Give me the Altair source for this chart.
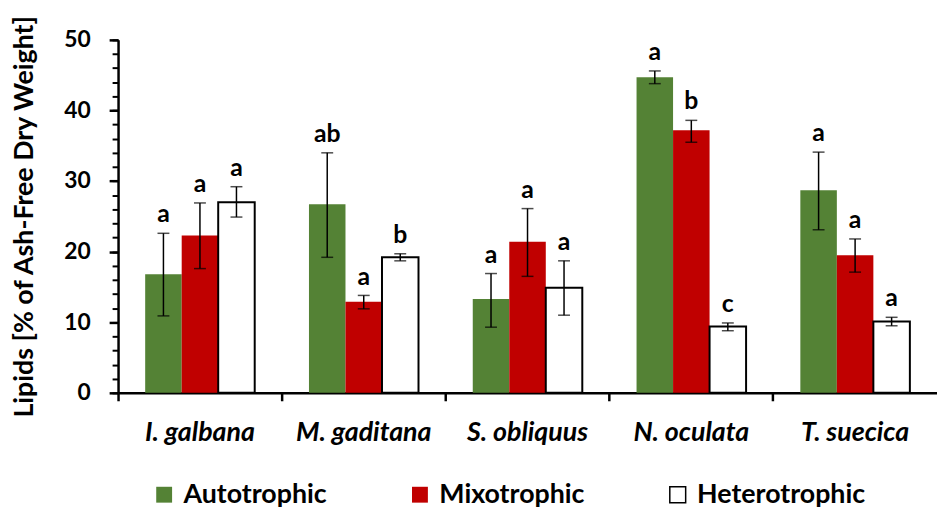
import altair as alt
import pandas as pd

species = ["I. galbana", "M. gaditana", "S. obliquus", "N. oculata", "T. suecica"]
types = ["Autotrophic", "Mixotrophic", "Heterotrophic"]

auto = [16.8, 26.7, 13.3, 44.7, 28.7]
auto_lo = [10.9, 19.2, 9.3, 43.8, 23.1]
auto_hi = [22.6, 34.0, 16.9, 45.6, 34.1]
auto_let = ["a", "ab", "a", "a", "a"]

mixo = [22.3, 12.9, 21.4, 37.2, 19.5]
mixo_lo = [17.6, 11.9, 16.5, 35.5, 17.1]
mixo_hi = [26.9, 13.8, 26.1, 38.6, 21.8]
mixo_let = ["a", "a", "a", "b", "a"]

hetero = [27.0, 19.2, 14.9, 9.4, 10.1]
hetero_lo = [24.9, 18.7, 11.0, 8.8, 9.5]
hetero_hi = [29.2, 19.7, 18.7, 9.9, 10.7]
hetero_let = ["a", "b", "a", "c", "a"]

fills = ["#548235", "#C00000", "#FFFFFF"]
strokes = ["transparent", "transparent", "#000000"]

rows = []
series = [
    ("Autotrophic", auto, auto_lo, auto_hi, auto_let),
    ("Mixotrophic", mixo, mixo_lo, mixo_hi, mixo_let),
    ("Heterotrophic", hetero, hetero_lo, hetero_hi, hetero_let),
]
for i, s in enumerate(species):
    for t, v, lo, hi, let in series:
        rows.append(dict(Species=s, Type=t, Value=v[i], Lo=lo[i], Hi=hi[i], Letter=let[i]))
df = pd.DataFrame(rows)

FONT = "Lato"
xscale = alt.Scale(domain=species, paddingInner=0, paddingOuter=0)
xoscale = alt.Scale(domain=types, paddingOuter=0.743, paddingInner=0)
yscale = alt.Scale(domain=[0, 50], nice=False)

x_lab = alt.X("Species:N", sort=species, scale=xscale,
              axis=alt.Axis(title=None, orient="bottom", labelFont=FONT, labelFontSize=27,
                            labelFontWeight="bold", labelFontStyle="italic", labelColor="black",
                            labelPadding=27, labelAngle=0, ticks=False, domain=True,
                            domainColor="black", domainWidth=2.5, grid=False))
x_none = alt.X("Species:N", sort=species, scale=xscale, axis=None)
x_tick = alt.X("Species:N", sort=species, scale=xscale,
               axis=alt.Axis(title=None, orient="bottom", labels=False, domain=False, ticks=True,
                             tickSize=8, tickWidth=2.5, tickColor="black", bandPosition=0,
                             grid=False))
xo = alt.XOffset("Type:N", sort=types, scale=xoscale)

y_main = alt.Y("Value:Q", scale=yscale,
               axis=alt.Axis(values=list(range(0, 51, 10)), orient="left",
                             title="Lipids [% of Ash-Free Dry Weight]",
                             titleFont=FONT, titleFontSize=27, titleFontWeight="bold",
                             titleColor="black", titlePadding=26,
                             labelFont=FONT, labelFontSize=23, labelFontWeight="bold",
                             labelColor="black", labelPadding=19,
                             tickSize=9, tickWidth=2.5, tickColor="black",
                             domain=True, domainColor="black", domainWidth=2.5, grid=False))

legend = alt.Legend(title=None, orient="none", legendX=33, legendY=445,
                    direction="horizontal", columns=3, columnPadding=80,
                    symbolType="square", symbolSize=256, labelLimit=400,
                    symbolStrokeWidth=1.5, labelFont=FONT,
                    labelFontSize=27, labelFontWeight="bold",
                    labelColor="black", labelOffset=6)

base = alt.Chart(df)

bars = base.mark_bar(strokeWidth=2).encode(
    x=x_lab,
    xOffset=xo,
    y=y_main,
    fill=alt.Fill("Type:N", sort=types, scale=alt.Scale(domain=types, range=fills),
                  legend=legend),
    stroke=alt.Stroke("Type:N", sort=types, scale=alt.Scale(domain=types, range=strokes),
                      legend=legend),
)

err = base.mark_rule(color="black", strokeWidth=1.5).encode(
    x=x_none, xOffset=xo,
    y=alt.Y("Lo:Q", scale=yscale, axis=None),
    y2="Hi:Q",
)
cap_hi = base.mark_tick(color="black", size=12, thickness=1.5).encode(
    x=x_none, xOffset=xo, y=alt.Y("Hi:Q", scale=yscale, axis=None),
)
cap_lo = base.mark_tick(color="black", size=12, thickness=1.5).encode(
    x=x_none, xOffset=xo, y=alt.Y("Lo:Q", scale=yscale, axis=None),
)

letters = base.mark_text(font=FONT, fontSize=25, fontWeight="bold", color="black",
                         baseline="alphabetic", dy=-11).encode(
    x=x_tick, xOffset=xo,
    y=alt.Y("Hi:Q", scale=yscale,
            axis=alt.Axis(values=list(range(0, 51, 2)), orient="left", title=None,
                          labels=False, domain=False, tickSize=6, tickWidth=2,
                          tickColor="black", grid=False)),
    text="Letter:N",
)

chart = alt.layer(bars, err, cap_hi, cap_lo, letters).resolve_axis(
    x="independent", y="independent"
).properties(
    width=826, height=356,
    padding={"left": 111, "top": 30, "right": 0, "bottom": 114},
    autosize=alt.AutoSizeParams(type="none"),
).configure_view(stroke=None)

chart.save("out.html", embed_options={"renderer": "svg", "actions": False})
